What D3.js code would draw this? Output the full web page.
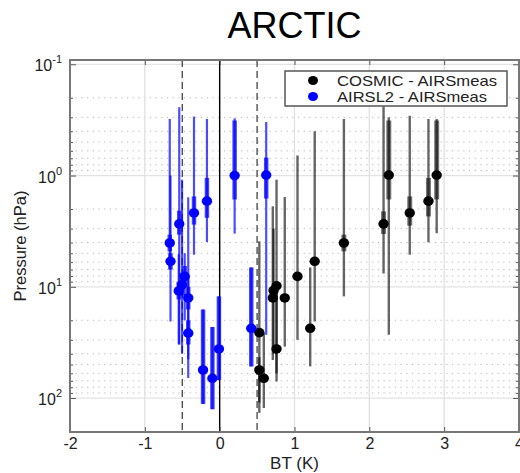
<!DOCTYPE html>
<html><head><meta charset="utf-8">
<script src="https://cdn.jsdelivr.net/npm/d3@7"></script>
<style>
body{margin:0;background:#fff;}
text{font-family:"Liberation Sans",Arial,Helvetica,sans-serif;}
</style></head>
<body><svg id="c" width="520" height="473"></svg>
<script>
// ---- data ----
const seriesNames = ["COSMIC - AIRSmeas", "AIRSL2 - AIRSmeas"];
const xTicks = [-2, -1, 0, 1, 2, 3, 4];
const yTickExps = [-1, 0, 1, 2];
const refLines = [-0.5, 0, 0.5];

// COSMIC - AIRSmeas
const cosmicBT      = [0.53, 0.53, 0.59, 0.76, 0.72, 0.71, 0.87, 0.76, 1.04, 1.27, 1.21, 1.66, 2.19, 2.26, 2.54, 2.79, 2.90];
const cosmicP       = [25.8, 56, 66.5, 9.8, 10.8, 12.6, 12.6, 36.2, 8.07, 5.9, 23.6, 4.04, 2.72, 0.99, 2.17, 1.70, 0.99];
const cosmicOuterLo = [3.9, 43, 26, 1.09, 3.0, 1.89, 1.56, 10, 0.66, 0.40, 6.7, 0.31, 0.24, 0.30, 0.29, 0.31, 0.31];
const cosmicOuterHi = [110, 136, 123, 71, 40, 45.5, 34.5, 60, 30, 20.5, 52, 12.2, 7.6, 27, 5.15, 3.98, 3.3];
const cosmicInnerLo = [25.8, 56, 66.5, 9.8, 10.8, 12.6, 12.6, 36.2, 8.07, 5.9, 23.6, 3.4, 2.1, 0.32, 1.54, 1.05, 0.32];
const cosmicInnerHi = [25.8, 56, 66.5, 9.8, 10.8, 12.6, 12.6, 36.2, 8.07, 5.9, 23.6, 4.8, 3.35, 1.64, 2.82, 2.33, 1.64];

// AIRSL2 - AIRSmeas
const airsBT      = [-0.667, -0.657, -0.54, -0.343, -0.17, 0.20, 0.622, -0.467, -0.503, -0.547, -0.42, -0.42, -0.222, -0.097, -0.01, 0.422];
const airsP       = [4.04, 5.9, 2.72, 2.17, 1.70, 1.0, 0.99, 8.07, 9.6, 10.9, 12.6, 26.1, 56, 66.5, 36.2, 23.6];
const airsOuterLo = [0.31, 1.0, 0.243, 0.295, 0.31, 0.306, 0.33, 5.0, 1.09, 5.1, 1.57, 8, 16, 23, 12.2, 6.7];
const airsOuterHi = [7.0, 20.5, 33, 5.15, 3.96, 3.33, 27, 20, 40, 33, 45, 66, 113, 126, 69, 52];
const airsInnerLo = [3.4, 5.0, 2.07, 1.54, 1.05, 0.32, 0.69, 6.5, 7.5, 9, 10, 20, 16, 23, 12.2, 6.7];
const airsInnerHi = [4.8, 7.0, 3.4, 2.76, 2.4, 1.64, 1.61, 10, 12, 13, 16, 33, 113, 126, 69, 52];

// ---- layout ----
const L = 70, R = 519, T = 60, B = 432;
const svg = d3.select("#c");
const x = d3.scaleLinear().domain([-2, 4]).range([L, R]);
const y = d3.scaleLog().domain([0.0915, 202]).range([T, B]);

const majors = yTickExps.map(e => Math.pow(10, e));
const minors = [];
[-2, -1, 0, 1, 2].forEach(e => { for (let k = 2; k <= 9; k++) { const v = k * Math.pow(10, e); if (v > 0.0915 && v < 202) minors.push(v); } });

// grid
const g = svg.append("g");
g.selectAll(".mg").data(minors).enter().append("line")
  .attr("x1", L).attr("x2", R).attr("y1", d => y(d)).attr("y2", d => y(d))
  .attr("stroke", "#b8b8b8").attr("stroke-width", 1).attr("stroke-dasharray", "1.2,4.5");
g.selectAll(".Mg").data(majors).enter().append("line")
  .attr("x1", L).attr("x2", R).attr("y1", d => y(d)).attr("y2", d => y(d))
  .attr("stroke", "#e3e3e3").attr("stroke-width", 1.2);
g.selectAll(".vg").data(xTicks.slice(1, -1)).enter().append("line")
  .attr("x1", d => x(d)).attr("x2", d => x(d)).attr("y1", T).attr("y2", B)
  .attr("stroke", "#e0e0e0").attr("stroke-width", 1.3);

// reference lines
svg.selectAll(".ref").data(refLines).enter().append("line")
  .attr("x1", d => x(d)).attr("x2", d => x(d)).attr("y1", T).attr("y2", B)
  .attr("stroke", d => d === 0 ? "#000" : "#333")
  .attr("stroke-width", d => d === 0 ? 1.4 : 1.2)
  .attr("stroke-dasharray", d => d === 0 ? null : "7,4");

// error bars + markers
function drawSeries(bt, p, oLo, oHi, iLo, iHi, color, outerW, outerOp, innerW, innerOp) {
  const gg = svg.append("g");
  const idx = d3.range(bt.length);
  gg.selectAll(".o").data(idx).enter().append("line")
    .attr("x1", i => x(bt[i])).attr("x2", i => x(bt[i]))
    .attr("y1", i => y(oLo[i])).attr("y2", i => y(oHi[i]))
    .attr("stroke", color).attr("stroke-width", outerW).attr("stroke-opacity", outerOp);
  gg.selectAll(".i").data(idx).enter().append("line")
    .attr("x1", i => x(bt[i])).attr("x2", i => x(bt[i]))
    .attr("y1", i => y(iLo[i])).attr("y2", i => y(iHi[i]))
    .attr("stroke", color).attr("stroke-width", innerW).attr("stroke-opacity", innerOp);
  gg.selectAll("ellipse").data(idx).enter().append("ellipse")
    .attr("cx", i => x(bt[i])).attr("cy", i => y(p[i]))
    .attr("rx", 5.2).attr("ry", 4.8).attr("fill", color);
}
drawSeries(cosmicBT, cosmicP, cosmicOuterLo, cosmicOuterHi, cosmicInnerLo, cosmicInnerHi, "#000", 2.4, 0.6, 5, 0.55);
drawSeries(airsBT, airsP, airsOuterLo, airsOuterHi, airsInnerLo, airsInnerHi, "#0000ff", 2.2, 0.7, 4.5, 0.72);

// axes
const axCol = "#777";
const ax = svg.append("g");
const xAxB = d3.axisBottom(x).tickValues(xTicks).tickSize(-5).tickPadding(6).tickFormat(d => String(d));
const gx = ax.append("g").attr("transform", `translate(0,${B})`).call(xAxB);
const xAxT = d3.axisTop(x).tickValues(xTicks).tickSize(-5).tickFormat("");
ax.append("g").attr("transform", `translate(0,${T})`).call(xAxT);
const yAxL = d3.axisLeft(y).tickValues(majors).tickSize(-6).tickFormat("");
ax.append("g").attr("transform", `translate(${L},0)`).call(yAxL);
ax.append("g").attr("transform", `translate(${L},0)`).call(d3.axisLeft(y).tickValues(minors).tickSize(-3).tickFormat(""));
ax.append("g").attr("transform", `translate(${R},0)`).call(d3.axisRight(y).tickValues(majors).tickSize(-6).tickFormat(""));
ax.append("g").attr("transform", `translate(${R},0)`).call(d3.axisRight(y).tickValues(minors).tickSize(-3).tickFormat(""));
ax.selectAll(".domain").remove();
ax.selectAll(".tick line").attr("stroke", "#555").attr("stroke-width", 1);
gx.selectAll("text").attr("font-size", 16).attr("fill", "#222").attr("dy", "0.71em");

// y tick labels with superscripts
const yl = svg.append("g");
yTickExps.forEach(e => {
  const t = yl.append("text").attr("x", L - 8).attr("y", y(Math.pow(10, e)) + 7)
    .attr("text-anchor", "end").attr("font-size", 16).attr("fill", "#222");
  t.append("tspan").text("10");
  t.append("tspan").attr("font-size", 11).attr("dy", -8).text(String(e));
});

// frame
svg.append("rect").attr("x", L).attr("y", T).attr("width", R - L).attr("height", B - T)
  .attr("fill", "none").attr("stroke", axCol).attr("stroke-width", 2);

// labels
svg.append("text").attr("x", (L + R) / 2).attr("y", 38).attr("text-anchor", "middle")
  .attr("font-size", 36).attr("fill", "#000").text("ARCTIC");
svg.append("text").attr("x", (L + R) / 2).attr("y", 469).attr("text-anchor", "middle")
  .attr("font-size", 17).attr("fill", "#222").text("BT (K)");
svg.append("text").attr("transform", `translate(26,${(T + B) / 2}) rotate(-90)`)
  .attr("text-anchor", "middle").attr("font-size", 16.5).attr("fill", "#222").text("Pressure (hPa)");

// legend
const lg = svg.append("g");
lg.append("rect").attr("x", 285).attr("y", 71).attr("width", 222).attr("height", 35)
  .attr("fill", "#fff").attr("stroke", "#555").attr("stroke-width", 1.5);
const legColors = ["#000", "#0000ff"];
seriesNames.forEach((n, i) => {
  const yy = 80.5 + i * 16;
  lg.append("ellipse").attr("cx", 313).attr("cy", yy).attr("rx", 5).attr("ry", 4.6).attr("fill", legColors[i]);
  lg.append("text").attr("x", 337).attr("y", yy + 5).attr("font-size", 14.5)
    .attr("textLength", i === 0 ? 160 : 150).attr("lengthAdjust", "spacingAndGlyphs")
    .attr("fill", "#222").text(n);
});
</script></body></html>
